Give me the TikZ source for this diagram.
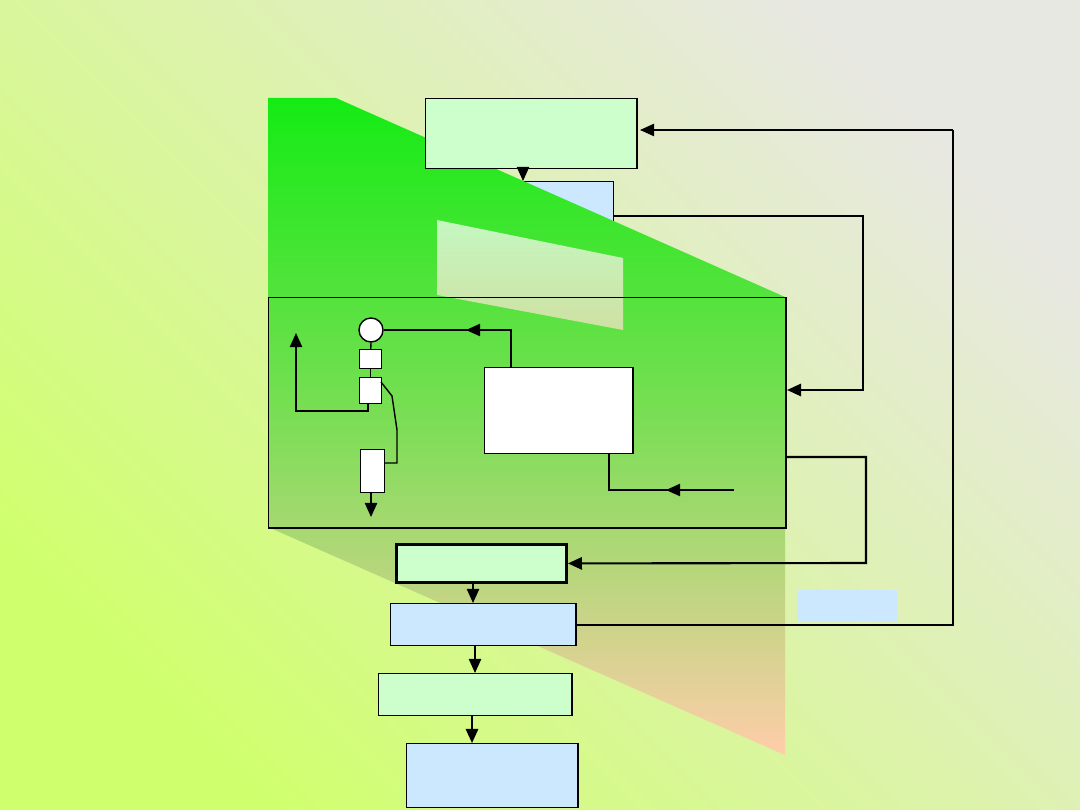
\documentclass[tikz,border=0pt]{standalone}
\usetikzlibrary{arrows.meta}
\definecolor{lgreen}{RGB}{204,255,204}
\definecolor{lblue}{RGB}{204,232,255}
\definecolor{bgA}{RGB}{208,255,110}
\definecolor{bgB}{RGB}{232,232,226}
\definecolor{hgreen}{RGB}{20,235,20}
\definecolor{horange}{RGB}{255,205,170}
\tikzset{
  greenbox/.style={draw, fill=lgreen, thin, anchor=north west, inner sep=0},
  bluebox/.style={draw, fill=lblue, thin, anchor=north west, inner sep=0},
  whitebox/.style={draw, fill=white, thin, anchor=north west, inner sep=0},
  flow/.style={-{Triangle[length=4pt,width=3.5pt]}},
  line/.style={thin}
}
\begin{document}
\begin{tikzpicture}[x=0.01cm, y=-0.01cm]
      \shade [left color=bgA, right color=bgB, shading angle=135] (0,0) rectangle (1080,810);
      \useasboundingbox (0,0) rectangle (1080,810);

      \node [bluebox, minimum width=0.90cm, minimum height=0.59cm] (feed) at (523,181) {};

      % slanted band
      \shade [top color=hgreen, bottom color=horange, middle color=hgreen!55!horange]
            (268,98) -- (336,98) -- (785,297) -- (785,755) -- (268,527) -- cycle;
      \shade [top color=white, bottom color=horange!60!white, opacity=0.7] (437,220) -- (623,258) -- (623,330) -- (437,295) -- cycle;

      \node [greenbox, minimum width=2.11cm, minimum height=0.70cm] (plan) at (425,98) {};
      \node [draw, thin, anchor=north west, inner sep=0, minimum width=5.17cm, minimum height=2.30cm] (plant) at (268,297) {};

      \node [draw, fill=white, circle, minimum size=0.24cm, inner sep=0] (sum) at (371,330) {};
      \node [whitebox, minimum width=0.22cm, minimum height=0.19cm] (ctrl) at (359,349) {};
      \node [whitebox, minimum width=0.22cm, minimum height=0.26cm] (act) at (359,377) {};
      \node [whitebox, minimum width=0.24cm, minimum height=0.43cm] (sens) at (360,449) {};
      \node [whitebox, minimum width=1.48cm, minimum height=0.86cm] (proc) at (484,367) {};

      \node [greenbox, thick, minimum width=1.70cm, minimum height=0.38cm] (check) at (395,543) {};
      \node [bluebox, minimum width=1.85cm, minimum height=0.42cm] (eval) at (390,603) {};
      \node [greenbox, minimum width=1.93cm, minimum height=0.42cm] (store) at (378,673) {};
      \node [bluebox, minimum width=1.71cm, minimum height=0.64cm] (report) at (406,743) {};
      \fill [lblue] (797,590) rectangle (897,621);

      \coordinate (procin) at (734,490);
      \coordinate (out) at (371,517);
      \coordinate (up) at (296,333);

      \draw [flow] (523,168) -- (523,181);
      \draw [line] (sum.east) -- (511,330) -- (511,367);
      \draw [flow] (511,330) -- (466,330);
      \draw [line] (sum.south) -- (ctrl.north);
      \draw [line] (ctrl.south) -- (act.north);
      \draw [flow] (368,403) -- (368,411) -- (296,411) -- (up);
      \draw [line] (381,382) -- (392,396) -- (397,430) -- (397,463) -- (384,463);
      \draw [flow] (371,492) -- (out);
      \draw [line] (609,453) -- (609,490) -- (procin);
      \draw [flow] (procin) -- (666,490);
      \draw [flow, semithick] (613,216) -- (863,216) -- (863,390) -- (787,390);
      \draw [flow, semithick] (785,457) -- (866,457) -- (866,563) -- (check.east);
      \draw [flow] (473,581) -- (473,603);
      \draw [line, semithick] (575,625) -- (953,625) -- (953,130);
      \draw [flow] (953,130) -- (640,130);
      \draw [flow] (475,645) -- (475,673);
      \draw [flow, semithick] (472,715) -- (472,743);
\end{tikzpicture}
\end{document}
